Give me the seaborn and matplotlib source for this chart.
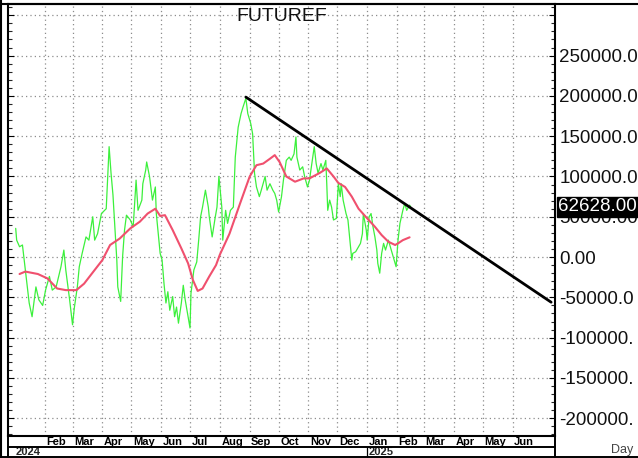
import numpy as np
import pandas as pd
import matplotlib
matplotlib.use("Agg")
import matplotlib.pyplot as plt
import matplotlib.transforms as mtransforms
from matplotlib.lines import Line2D
from matplotlib.ticker import FixedLocator, FixedFormatter, MultipleLocator
import seaborn as sns

# ---------------- data ----------------
green_dates = [
    "2024-01-02", "2024-01-03", "2024-01-06", "2024-01-09", "2024-01-12", "2024-01-16",
    "2024-01-19", "2024-01-23", "2024-01-26", "2024-01-30", "2024-02-02", "2024-02-06",
    "2024-02-09", "2024-02-13", "2024-02-18", "2024-02-21", "2024-02-23", "2024-02-27",
    "2024-03-01", "2024-03-03", "2024-03-06", "2024-03-08", "2024-03-11", "2024-03-15",
    "2024-03-18", "2024-03-22", "2024-03-24", "2024-03-27", "2024-03-31", "2024-04-05",
    "2024-04-08", "2024-04-10", "2024-04-12", "2024-04-16", "2024-04-17", "2024-04-20",
    "2024-04-22", "2024-04-24", "2024-04-26", "2024-04-30", "2024-05-03", "2024-05-06",
    "2024-05-08", "2024-05-12", "2024-05-13", "2024-05-16", "2024-05-17", "2024-05-20",
    "2024-05-23", "2024-05-26", "2024-05-27", "2024-05-29", "2024-05-31", "2024-06-02",
    "2024-06-04", "2024-06-06", "2024-06-08", "2024-06-10", "2024-06-13", "2024-06-15",
    "2024-06-17", "2024-06-19", "2024-06-22", "2024-06-24", "2024-06-26", "2024-06-29",
    "2024-07-01", "2024-07-02", "2024-07-05", "2024-07-08", "2024-07-10", "2024-07-12",
    "2024-07-14", "2024-07-17", "2024-07-20", "2024-07-21", "2024-07-24", "2024-07-27",
    "2024-07-29", "2024-07-31", "2024-08-03", "2024-08-04", "2024-08-07", "2024-08-09",
    "2024-08-12", "2024-08-15", "2024-08-17", "2024-08-20", "2024-08-23", "2024-08-25",
    "2024-08-28", "2024-08-30", "2024-09-02", "2024-09-04", "2024-09-06", "2024-09-08",
    "2024-09-11", "2024-09-13", "2024-09-17", "2024-09-19", "2024-09-22", "2024-09-25",
    "2024-09-27", "2024-09-29", "2024-10-01", "2024-10-04", "2024-10-06", "2024-10-09",
    "2024-10-12", "2024-10-14", "2024-10-17", "2024-10-19", "2024-10-20", "2024-10-23",
    "2024-10-26", "2024-10-28", "2024-10-31", "2024-11-02", "2024-11-05", "2024-11-07",
    "2024-11-09", "2024-11-11", "2024-11-14", "2024-11-16", "2024-11-19", "2024-11-20",
    "2024-11-21", "2024-11-23", "2024-11-25", "2024-11-27", "2024-11-30", "2024-12-02",
    "2024-12-04", "2024-12-05", "2024-12-07", "2024-12-10", "2024-12-12", "2024-12-14",
    "2024-12-16", "2024-12-17", "2024-12-20", "2024-12-23", "2024-12-25", "2024-12-27",
    "2024-12-28", "2024-12-31", "2025-01-01", "2025-01-03", "2025-01-05", "2025-01-07",
    "2025-01-09", "2025-01-11", "2025-01-12", "2025-01-14", "2025-01-16", "2025-01-18",
    "2025-01-20", "2025-01-23", "2025-01-25", "2025-01-28", "2025-01-31", "2025-02-01",
    "2025-02-02", "2025-02-04", "2025-02-07", "2025-02-09", "2025-02-11", "2025-02-14",
    "2025-02-15",
]
green_values = [
    35600, 21000, 12800, 15000, -16000, -57000,
    -74000, -37000, -53000, -60000, -41000, -24000,
    -41000, -37000, -12000, 8700, -16000, -53000,
    -84000, -62000, -37000, -12000, 4600, 25000,
    21000, 50000, 21000, 29000, 54000, 60000,
    137000, 104000, 77000, -4000, -37000, -55000,
    400, 33500, 52000, 46000, 37600, 95500,
    58000, 70700, 91000, 108000, 118000, 99600,
    70700, 87000, 54000, 29000, 4600, -3700,
    -33000, -57000, -43000, -66000, -49000, -74000,
    -62000, -82000, -57000, -35000, -53000, -74000,
    -88000, -45000, -16000, -6000, 21000, 50000,
    62000, 83000, 62000, 50000, 25000, 48000,
    62000, 100000, 62000, 21000, 58000, 41800,
    58000, 62000, 124000, 161000, 178000, 186000,
    197000, 178000, 166000, 153000, 104000, 87000,
    75000, 83000, 100000, 83000, 91000, 83000,
    79000, 70700, 56000, 75000, 95500, 120000,
    124000, 120000, 128000, 149000, 124000, 108000,
    112000, 100000, 87000, 95000, 120000, 137000,
    116000, 104000, 116000, 108000, 120000, 91000,
    58000, 70700, 62000, 46000, 48000, 91000,
    75000, 91000, 70700, 54000, 46000, 21000,
    -3700, 4600, 6600, 12800, 17000, 29000,
    54000, 33500, 21000, 50000, 54000, 37600,
    25000, 8700, -7800, -20000, 4600, 17000,
    8700, 21000, 12800, 400, -12000, 4600,
    21000, 41800, 58000, 66600, 58000, 64500,
    62628,
]

ma_dates = [
    "2024-01-06", "2024-01-12", "2024-01-25", "2024-02-04", "2024-02-14", "2024-02-23",
    "2024-03-05", "2024-03-13", "2024-03-24", "2024-04-01", "2024-04-09", "2024-04-19",
    "2024-04-30", "2024-05-10", "2024-05-18", "2024-05-26", "2024-05-31", "2024-06-05",
    "2024-06-13", "2024-06-22", "2024-06-29", "2024-07-04", "2024-07-09", "2024-07-14",
    "2024-07-21", "2024-07-28", "2024-08-01", "2024-08-11", "2024-08-22", "2024-09-01",
    "2024-09-08", "2024-09-15", "2024-09-22", "2024-09-27", "2024-10-02", "2024-10-09",
    "2024-10-18", "2024-10-27", "2024-11-02", "2024-11-13", "2024-11-20", "2024-11-27",
    "2024-12-02", "2024-12-09", "2024-12-16", "2024-12-23", "2025-01-01", "2025-01-09",
    "2025-01-16", "2025-01-23", "2025-01-30", "2025-02-02", "2025-02-07", "2025-02-14",
]
ma_values = [
    -21000, -18000, -21000, -26500, -39000, -41000,
    -41000, -33000, -16000, -3700, 15000, 23000,
    35600, 44000, 54000, 60000, 51000, 52000,
    33500, 10800, -7800, -28500, -42000, -39000,
    -24000, -10000, 3000, 29000, 66600, 100000,
    114000, 116000, 122000, 126500, 118000, 100000,
    93500, 97600, 97600, 104600, 110000, 100000,
    92000, 87000, 75000, 60000, 48000, 37600,
    27300, 19000, 15000, 17000, 21000, 24500,
]

trend_dates = ["2024-08-28", "2025-07-11"]
trend_values = [198500, -56000]

last_value = 62628.00
last_label = "62628.00"

y_ticks = [-200000, -150000, -100000, -50000, 0, 50000, 100000, 150000, 200000, 250000, 300000]
y_labels = ["-200000.", "-150000.", "-100000.", "-50000.0", "0.00", "50000.00",
            "100000.0", "150000.0", "200000.0", "250000.0", ""]
month_labels = ["Feb", "Mar", "Apr", "May", "Jun", "Jul", "Aug", "Sep", "Oct",
                "Nov", "Dec", "Jan", "Feb", "Mar", "Apr", "May", "Jun"]
month_starts = pd.date_range("2024-02-01", "2025-06-01", freq="MS")
year_labels = ["2024", "2025"]
year_starts = [pd.Timestamp("2023-12-25"), pd.Timestamp("2025-01-01")]
title = "FUTUREF"

# ---------------- figure ----------------
sns.set_style("white")
plt.rcParams["font.family"] = ["Liberation Sans", "DejaVu Sans"]

W, H = 638, 458
fig = plt.figure(figsize=(W / 100, H / 100), dpi=100)

def fx(x):
    return x / W

def fy(y):
    return 1 - y / H

ax_l, ax_r, ax_t, ax_b = 8, 555, 4, 436
ax = fig.add_axes([fx(ax_l), fy(ax_b), (ax_r - ax_l) / W, (ax_b - ax_t) / H])

gdf = pd.DataFrame({"date": pd.to_datetime(green_dates), "value": green_values})
mdf = pd.DataFrame({"date": pd.to_datetime(ma_dates), "value": ma_values})
tdf = pd.DataFrame({"date": pd.to_datetime(trend_dates), "value": trend_values})

sns.lineplot(data=gdf, x="date", y="value", ax=ax, color="#3cf03c", linewidth=0.9,
             estimator=None)
sns.lineplot(data=mdf, x="date", y="value", ax=ax, color="#f0506e", linewidth=1.5,
             estimator=None)
sns.lineplot(data=tdf, x="date", y="value", ax=ax, color="black", linewidth=2.0,
             estimator=None)

ax.set_xlim(pd.Timestamp("2023-12-25"), pd.Timestamp("2025-07-15"))
ax.set_ylim(-222000, 314000)
ax.set_xlabel("")
ax.set_ylabel("")

# grid / ticks
ax.xaxis.set_major_locator(FixedLocator(matplotlib.dates.date2num(month_starts)))
ax.xaxis.set_major_formatter(FixedFormatter(month_labels))
ax.yaxis.set_major_locator(FixedLocator(y_ticks))
ax.yaxis.set_major_formatter(FixedFormatter(y_labels))
ax.yaxis.set_minor_locator(MultipleLocator(10000))
ax.grid(True, which="major", color="#8c8c8c", linestyle=(0, (1, 2.5)), linewidth=0.9)

ax.yaxis.tick_right()
ax.tick_params(axis="y", which="major", direction="in", length=4, width=0.8,
               left=True, right=True, labelleft=False, labelright=True,
               labelsize=13.5, pad=3, colors="black")
ax.tick_params(axis="y", which="minor", direction="in", length=3, width=0.8,
               left=True, right=True)
for lab in ax.get_yticklabels():
    lab.set_color("#111111")

ax.tick_params(axis="x", which="major", direction="out", length=8, width=0.9,
               labelsize=8, pad=-7.6, colors="black")
offset = mtransforms.ScaledTranslation(1.5 / 100, 0, fig.dpi_scale_trans)
for lab in ax.get_xticklabels():
    lab.set_horizontalalignment("left")
    lab.set_fontweight("bold")
    lab.set_transform(lab.get_transform() + offset)

for s in ax.spines.values():
    s.set_color("black")
    s.set_linewidth(1.5)

# title
ax.text(0.5, 1 - 4 / (ax_b - ax_t), title, transform=ax.transAxes, ha="center",
        va="top", fontsize=14, color="#111111")

# last value box
btrans = mtransforms.blended_transform_factory(ax.transAxes, ax.transData)
ax.text(1.0 + 3 / (ax_r - ax_l), last_value, last_label, transform=btrans, ha="left",
        va="center", fontsize=13.5, color="white", zorder=10, clip_on=False,
        bbox=dict(boxstyle="square,pad=0.08", facecolor="black", edgecolor="black"))

# lower bands
lines = [
    ((ax_l, ax_r), (447, 447)),
    ((ax_l, ax_l), (ax_b, 457)),
    ((ax_r, ax_r), (ax_b, 457)),
    ((0.5, 637.5), (457, 457)),
]
for xs, ys in lines:
    fig.add_artist(Line2D([fx(v) for v in xs], [fy(v) for v in ys], color="black",
                          linewidth=1.4))
# outer frame
fig.add_artist(Line2D([fx(0.8), fx(0.8)], [fy(0), fy(458)], color="black", linewidth=1.5))
fig.add_artist(Line2D([fx(0), fx(638)], [fy(ax_t), fy(ax_t)], color="black", linewidth=1.5))

xtrans = mtransforms.blended_transform_factory(ax.transData, fig.transFigure)
ax.add_artist(Line2D([matplotlib.dates.date2num(year_starts[1])] * 2, [fy(447), fy(457)],
                     transform=xtrans, color="black", linewidth=0.9, clip_on=False))
year_shift = [8, 1.5]
for lbl, d, sh in zip(year_labels, year_starts, year_shift):
    ax.text(matplotlib.dates.date2num(d), fy(452), lbl,
            transform=xtrans + mtransforms.ScaledTranslation(sh / 100, 0, fig.dpi_scale_trans),
            ha="left", va="center", fontsize=8, fontweight="bold", clip_on=False)

fig.text(fx(622), fy(450), "Day", ha="center", va="center", fontsize=9, color="#444444")

fig.savefig("out.png", dpi=100)
